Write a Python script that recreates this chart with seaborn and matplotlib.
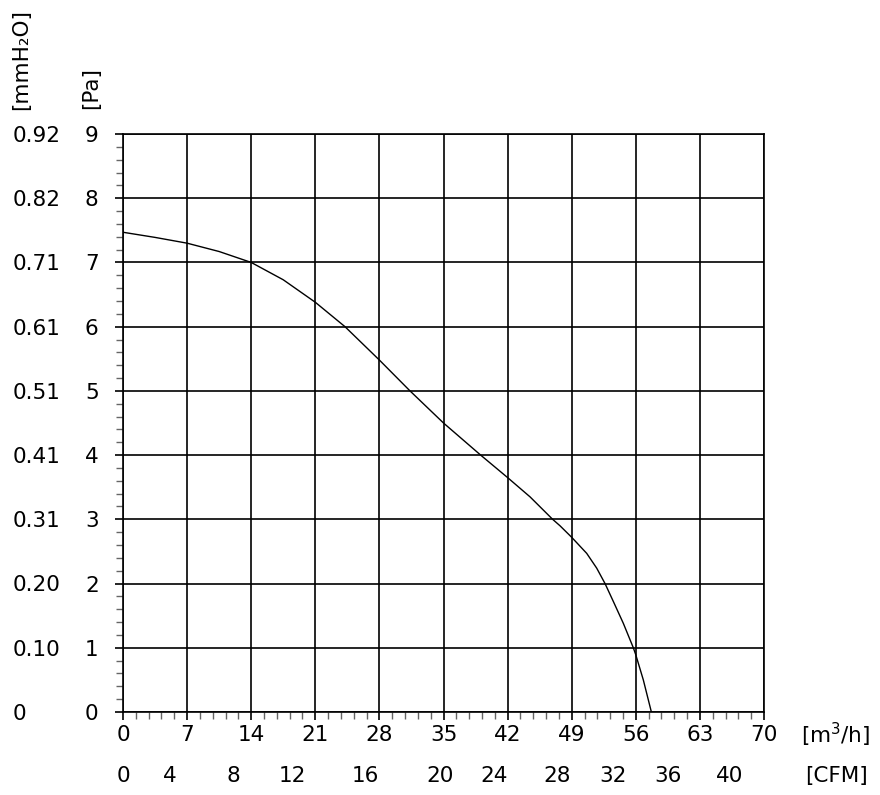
import matplotlib
matplotlib.use("Agg")
import matplotlib.pyplot as plt
import matplotlib.transforms as mtransforms
from matplotlib.ticker import MultipleLocator, FixedLocator
import seaborn as sns
import pandas as pd

# ---- data ----
flow_m3h = [0, 3.5, 7, 10.5, 14, 17.5, 21, 24.24, 28, 31.34, 35, 39.06, 42,
            44.45, 46.92, 47.72, 49, 50.64, 51.73, 52.64, 53.55, 54.64, 55.73,
            56.0, 56.82, 57.7]
pressure_pa = [7.47, 7.39, 7.30, 7.17, 7.0, 6.73, 6.38, 6.0, 5.48, 5.0, 4.50,
               4.0, 3.65, 3.35, 3.0, 2.90, 2.72, 2.47, 2.24, 2.0, 1.72, 1.38,
               1.0, 0.89, 0.50, 0.0]

x_ticks = [0, 7, 14, 21, 28, 35, 42, 49, 56, 63, 70]
pa_ticks = [0, 1, 2, 3, 4, 5, 6, 7, 8, 9]
mmh2o_labels = ["0", "0.10", "0.20", "0.31", "0.41", "0.51", "0.61", "0.71", "0.82", "0.92"]
cfm_labels = ["0", "4", "8", "12", "16", "20", "24", "28", "32", "36", "40"]
cfm_label_pos = [0.1, 5.1, 12.0, 18.5, 26.5, 34.6, 40.5, 47.4, 53.5, 59.5, 66.3]

df = pd.DataFrame({"flow": flow_m3h, "pressure": pressure_pa})

sns.set_style("white")
plt.rcParams["font.family"] = ["DejaVu Sans"]
plt.rcParams["text.color"] = "black"

FS = 15.5
W, H = 880, 795
fig = plt.figure(figsize=(W / 100, H / 100), dpi=100)
ax = fig.add_axes([123 / W, 1 - 712 / H, (764 - 123) / W, (712 - 134) / H])

sns.lineplot(data=df, x="flow", y="pressure", ax=ax, color="black",
             linewidth=1.0, sort=False, estimator=None)

ax.set_xlim(0, 70)
ax.set_ylim(0, 9)
ax.set_xlabel("")
ax.set_ylabel("")

ax.xaxis.set_major_locator(FixedLocator(x_ticks))
ax.xaxis.set_minor_locator(MultipleLocator(1.4))
ax.yaxis.set_major_locator(FixedLocator(pa_ticks))
ax.yaxis.set_minor_locator(MultipleLocator(0.2))
ax.set_xticklabels([str(v) for v in x_ticks])
ax.set_yticklabels([str(v) for v in pa_ticks])

ax.grid(True, which="major", color="black", linewidth=1.2)
for s in ax.spines.values():
    s.set_color("black")
    s.set_linewidth(1.2)
    s.set_visible(True)

ax.tick_params(axis="both", which="both", bottom=True, left=True,
               top=False, right=False)
ax.tick_params(axis="both", which="major", direction="out", length=5.5,
               width=1.2, color="black", labelsize=FS, labelcolor="black")
ax.tick_params(axis="both", which="minor", direction="out", length=5,
               width=1.0, color="#666666")
ax.tick_params(axis="x", which="major", pad=4)
ax.tick_params(axis="y", which="major", pad=12)

# mmH2O secondary labels
ty = mtransforms.blended_transform_factory(fig.transFigure, ax.transData)
for v, lab in zip(pa_ticks, mmh2o_labels):
    fig.text(13 / W, v - 0.03, lab, transform=ty, ha="left", va="center", fontsize=FS)

# CFM secondary labels
tx = mtransforms.blended_transform_factory(ax.transData, fig.transFigure)
for p, lab in zip(cfm_label_pos, cfm_labels):
    fig.text(p, 1 - 776 / H, lab, transform=tx, ha="center", va="center", fontsize=FS)

# unit labels
fig.text(836 / W, 1 - 735 / H, "[m$^3$/h]", ha="center", va="center", fontsize=FS)
fig.text(836 / W, 1 - 776 / H, "[CFM]", ha="center", va="center", fontsize=FS)
fig.text(21 / W, 1 - 60 / H, "[mmH\u2082O]", rotation=90, ha="center", va="center", fontsize=FS)
fig.text(91 / W, 1 - 88 / H, "[Pa]", rotation=90, ha="center", va="center", fontsize=FS)

fig.savefig("out.png", dpi=100, facecolor="white")
